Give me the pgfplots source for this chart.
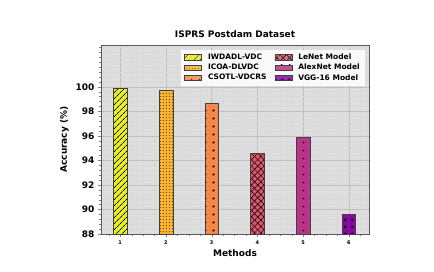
\documentclass[border=0pt]{standalone}
\usepackage{pgfplots}
\pgfplotsset{compat=1.18}
\usetikzlibrary{patterns,patterns.meta}
\usepackage{fontspec}
\setmainfont{DejaVu Sans}
\definecolor{c1}{HTML}{E6EE26}
\definecolor{c2}{HTML}{FDB42F}
\definecolor{c3}{HTML}{F58848}
\definecolor{c4}{HTML}{D9586A}
\definecolor{c5}{HTML}{BA3388}
\definecolor{c6}{HTML}{8A09A5}
\definecolor{bg}{HTML}{DEDEDE}
\pgfdeclarepattern{
  name=circs, type=uncolored,
  bottom left={\pgfpoint{-0.5pt}{-0.5pt}}, top right={\pgfpoint{6.5pt}{6.5pt}},
  tile size={\pgfpoint{7pt}{7pt}},
  code={\pgfsetlinewidth{0.6pt}\pgfpathcircle{\pgfpoint{3pt}{3pt}}{1.3pt}\pgfusepathqstroke}
}
\pgfdeclarepattern{
  name=bigdots, type=uncolored,
  bottom left={\pgfpoint{0pt}{0pt}}, top right={\pgfpoint{7.5pt}{7.5pt}},
  tile size={\pgfpoint{7.5pt}{7.5pt}},
  code={\pgfpathcircle{\pgfpoint{3.75pt}{3.75pt}}{1.2pt}\pgfusepathqfill}
}
\pgfdeclarepattern{
  name=smalldots, type=uncolored,
  bottom left={\pgfpoint{0pt}{0pt}}, top right={\pgfpoint{3.2pt}{3.2pt}},
  tile size={\pgfpoint{3.2pt}{3.2pt}},
  code={\pgfpathcircle{\pgfpoint{1.6pt}{1.6pt}}{0.55pt}\pgfusepathqfill}
}
\pgfdeclarepattern{
  name=middots, type=uncolored,
  bottom left={\pgfpoint{0pt}{0pt}}, top right={\pgfpoint{7.5pt}{7.5pt}},
  tile size={\pgfpoint{7.5pt}{7.5pt}},
  code={\pgfpathcircle{\pgfpoint{3.75pt}{3.75pt}}{0.95pt}\pgfusepathqfill}
}
\begin{document}
\begin{tikzpicture}
\begin{axis}[
  at={(0,0)}, anchor=south west,
  scale only axis, width=268pt, height=189pt,
  xmin=0.58, xmax=6.44, ymin=88, ymax=103.4,
  xtick={1,2,3,4,5,6},
  xticklabel style={font=\bfseries\fontsize{5}{6}\selectfont},
  ytick={88,90,92,94,96,98,100},
  yticklabel style={font=\bfseries\fontsize{9}{10}\selectfont},
  /pgf/number format/assume math mode=true,
  minor xtick={0.75,1,...,6.25},
  minor ytick={88,88.4,...,103.2},
  grid=both,
  major grid style={gray!50, line width=0.4pt},
  minor grid style={gray!30, line width=0.3pt},
  tick align=outside,
  major tick length=3pt, minor tick length=1.6pt,
  xtick pos=bottom, ytick pos=left,
  axis background/.style={fill=bg},
  axis line style={gray!70!black},
  title={\bfseries ISPRS Postdam Dataset},
  title style={font=\bfseries\fontsize{9}{10}\selectfont, yshift=-2pt},
  xlabel={\bfseries Methods},
  ylabel={\bfseries Accuracy (\%)},
  xlabel style={font=\bfseries\fontsize{9}{10}\selectfont, yshift=2pt},
  ylabel style={font=\bfseries\fontsize{9}{10}\selectfont},
  legend columns=2,
  legend style={at={(0.985,0.975)}, anchor=north east, draw=none, fill=white, fill opacity=0.85, text opacity=1,
    font=\bfseries\fontsize{7.5}{8.5}\selectfont, row sep=-1pt, column sep=4pt,
    /tikz/every even column/.append style={column sep=6pt}},
  legend cell align=left,
  area legend,
  every axis plot/.append style={ybar, bar width=0.3, bar shift=0pt, draw=black!75, line width=0.6pt},
]
\addplot[fill=c1, postaction={pattern={Lines[angle=45, distance=4pt, line width=0.7pt]}}] coordinates {(1,99.89)};
\addlegendentry{IWDADL-VDC}
\addplot[fill=c4, postaction={pattern={Hatch[angle=45, distance=4.5pt, line width=0.5pt]}}] coordinates {(4,94.59)};
\addlegendentry{LeNet Model}
\addplot[fill=c2, postaction={pattern=smalldots}] coordinates {(2,99.71)};
\addlegendentry{ICOA-DLVDC}
\addplot[fill=c5, postaction={pattern=middots}] coordinates {(5,95.89)};
\addlegendentry{AlexNet Model}
\addplot[fill=c3, postaction={pattern=bigdots}] coordinates {(3,98.67)};
\addlegendentry{CSOTL-VDCRS}
\addplot[fill=c6, postaction={pattern=circs}] coordinates {(6,89.58)};
\addlegendentry{VGG-16 Model}
\end{axis}
\path[use as bounding box] (-101pt,-37pt) rectangle (333pt,234pt);
\end{tikzpicture}
\end{document}
